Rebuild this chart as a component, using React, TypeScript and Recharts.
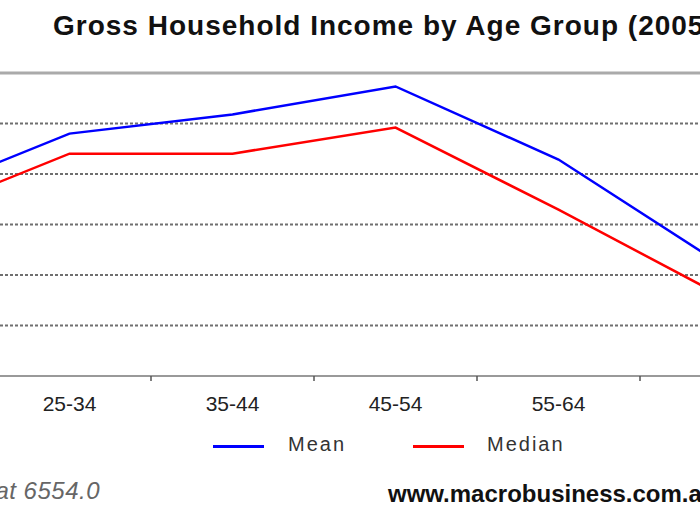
import { LineChart, Line, XAxis, YAxis, CartesianGrid, ReferenceLine } from "recharts"

const ageGroups = ["15-24", "25-34", "35-44", "45-54", "55-64", "65+"]
const meanIncome = [1048, 1440, 1554, 1720, 1286, 661]
const medianIncome = [929, 1321, 1321, 1476, 988, 476]
const yTicks = [0, 300, 600, 900, 1200, 1500, 1800]

const data = ageGroups.map((age, i) => ({ age, mean: meanIncome[i], median: medianIncome[i] }))

const HALF_STEP = 81.5

function AgeTick({ x, y, payload }: any) {
  return (
    <g>
      <line x1={x - HALF_STEP} x2={x - HALF_STEP} y1={y - 8} y2={y - 3} stroke="#555" strokeWidth={1.5} />
      <text x={x} y={y + 27} textAnchor="middle" fontSize={21} fill="#222" fontFamily="'Liberation Sans', Arial, sans-serif">
        {payload.value}
      </text>
    </g>
  )
}

function LegendBox() {
  const items = [
    { label: "Mean", color: "#0000ff", left: 213, textLeft: 288 },
    { label: "Median", color: "#ff0000", left: 413, textLeft: 487 },
  ]
  return (
    <div style={{ position: "absolute", left: 0, top: 433, width: 700, height: 30 }}>
      {items.map(it => (
        <div key={it.label}>
          <div style={{ position: "absolute", left: it.left, top: 12, width: 51, height: 3, background: it.color }} />
          <div style={{ position: "absolute", left: it.textLeft, top: 0, fontSize: 20, letterSpacing: 2, color: "#333" }}>
            {it.label}
          </div>
        </div>
      ))}
    </div>
  )
}

export default function App() {
  return (
    <div style={{ position: "absolute", left: 0, top: 0, width: 700, height: 525, overflow: "hidden", background: "#fff", fontFamily: "'Liberation Sans', Arial, sans-serif" }}>
      <div style={{ position: "absolute", left: 53, top: 10, fontSize: 28, fontWeight: "bold", letterSpacing: 1, whiteSpace: "nowrap", color: "#111" }}>
        Gross Household Income by Age Group (2005-06)
      </div>
      <LineChart width={700} height={525} data={data} margin={{ top: 73, left: -175, right: -103, bottom: 119 }}>
        <CartesianGrid vertical={false} stroke="#6f6f6f" strokeWidth={2} strokeDasharray="3 2" />
        <YAxis hide domain={[0, 1800]} ticks={yTicks} />
        <XAxis
          dataKey="age"
          height={30}
          padding={{ left: HALF_STEP, right: HALF_STEP }}
          axisLine={{ stroke: "#999", strokeWidth: 2 }}
          tickLine={false}
          tick={<AgeTick />}
          interval={0}
        />
        <ReferenceLine y={1800} stroke="#aaa" strokeWidth={3} />
        <Line dataKey="mean" name="Mean" stroke="#0000ff" strokeWidth={2.5} dot={false} isAnimationActive={false} />
        <Line dataKey="median" name="Median" stroke="#ff0000" strokeWidth={2.5} dot={false} isAnimationActive={false} />
      </LineChart>
      <LegendBox />
      <div style={{ position: "absolute", right: 600, top: 477, fontSize: 24, letterSpacing: 0.5, fontStyle: "italic", color: "#666", whiteSpace: "nowrap" }}>
        Source: ABS Cat 6554.0
      </div>
      <div style={{ position: "absolute", left: 388, top: 480, fontSize: 24, fontWeight: "bold", color: "#111", whiteSpace: "nowrap" }}>
        www.macrobusiness.com.au
      </div>
    </div>
  )
}
